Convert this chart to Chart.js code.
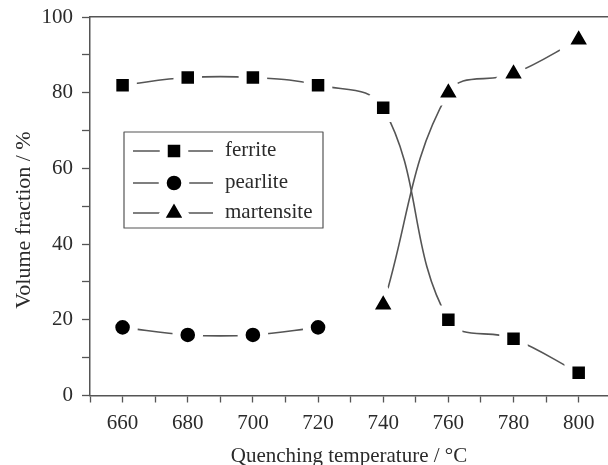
<!DOCTYPE html>
<html>
<head>
<meta charset="utf-8">
<script src="https://cdn.jsdelivr.net/npm/chart.js@4.4.0/dist/chart.umd.min.js"></script>
<style>
  html, body { margin: 0; padding: 0; background: #fff; }
  #caixa { width: 608px; height: 465px; }
</style>
</head>
<body>
<div id="caixa"><canvas id="grafico" width="608" height="465"></canvas></div>
<script>
// values
const temperatures = [660, 680, 700, 720, 740, 760, 780, 800];
const ferrite = [82, 84, 84, 82, 76, 20, 15, 6];
const pearliteTemps = [660, 680, 700, 720];
const pearlite = [18, 16, 16, 18];
const martensiteTemps = [740, 760, 780, 800];
const martensite = [24, 80, 85, 94];
const seriesNames = ['ferrite', 'pearlite', 'martensite'];
const xTickLabels = [660, 680, 700, 720, 740, 760, 780, 800];
const yTickLabels = [0, 20, 40, 60, 80, 100];
const yTitle = 'Volume fraction / %';
const xTitle = 'Quenching temperature / °C';

const FONT = 'Liberation Serif';
const TEXT = '#2b2b2b';
const LINE = '#555';

const toPoints = (xs, ys) => xs.map((x, i) => ({ x: x, y: ys[i] }));

const markers = [
  { style: 'rect', radius: 14.5 },
  { style: 'circle', radius: 11.3 },
  { style: 'triangle', radius: 17.5 }
];

const makeDataset = (name, pts, m) => ({
  label: name,
  data: pts,
  borderColor: LINE,
  borderWidth: 1.6,
  borderJoinStyle: 'round',
  tension: 0.4,
  pointStyle: m.style,
  pointRadius: m.radius,
  pointBackgroundColor: '#000',
  pointBorderColor: '#fff',
  pointBorderWidth: 8,
  clip: false
});

// no extra room for edge labels, the plot box is fixed
const noPad = (scale) => {
  scale.paddingLeft = 0;
  scale.paddingRight = 0;
  scale.paddingTop = 0;
  scale.paddingBottom = 0;
};

// white halo round the markers should not get mitred spikes
const roundJoins = {
  id: 'roundJoins',
  beforeDatasetsDraw(chart) {
    chart.ctx.lineJoin = 'round';
  }
};

// y title sits a bit below the middle in the reference
const yTitlePlugin = {
  id: 'yTitlePlugin',
  afterDraw(chart) {
    const ctx = chart.ctx;
    ctx.save();
    ctx.translate(24, 220);
    ctx.rotate(-Math.PI / 2);
    ctx.fillStyle = TEXT;
    ctx.font = '22px "' + FONT + '"';
    ctx.textAlign = 'center';
    ctx.textBaseline = 'middle';
    ctx.fillText(yTitle, 0, 0);
    ctx.restore();
  }
};

// legend drawn inside the plot, line - marker - line - text
const legendBox = {
  id: 'legendBox',
  afterDraw(chart) {
    const ctx = chart.ctx;
    ctx.save();
    ctx.lineJoin = 'round';
    ctx.strokeStyle = LINE;
    ctx.lineWidth = 1.2;
    ctx.strokeRect(124, 132, 199, 96);
    const rows = [151, 183, 213];
    seriesNames.forEach((name, i) => {
      const y = rows[i];
      ctx.strokeStyle = LINE;
      ctx.lineWidth = 1.6;
      ctx.beginPath();
      ctx.moveTo(133, y);
      ctx.lineTo(213, y);
      ctx.stroke();
      ctx.fillStyle = '#000';
      ctx.strokeStyle = '#fff';
      ctx.lineWidth = 8;
      Chart.helpers.drawPoint(ctx, {
        pointStyle: markers[i].style,
        radius: markers[i].radius,
        borderWidth: 8,
        rotation: 0
      }, 174, y);
      ctx.fillStyle = TEXT;
      ctx.font = '21px "' + FONT + '"';
      ctx.textBaseline = 'middle';
      ctx.textAlign = 'left';
      ctx.fillText(name, 225, y - 1);
    });
    ctx.restore();
  }
};

new Chart(document.getElementById('grafico'), {
  type: 'line',
  data: {
    datasets: [
      makeDataset(seriesNames[0], toPoints(temperatures, ferrite), markers[0]),
      makeDataset(seriesNames[1], toPoints(pearliteTemps, pearlite), markers[1]),
      makeDataset(seriesNames[2], toPoints(martensiteTemps, martensite), markers[2])
    ]
  },
  options: {
    responsive: false,
    animation: false,
    events: [],
    layout: { autoPadding: false, padding: { top: 17, right: 0, left: 0, bottom: 0 } },
    plugins: {
      legend: { display: false },
      tooltip: { enabled: false }
    },
    scales: {
      x: {
        type: 'linear',
        min: 650,
        max: 809,
        afterBuildTicks: (scale) => {
          const t = [];
          for (let v = 650; v <= 800; v += 10) t.push({ value: v });
          scale.ticks = t;
        },
        afterFit: (scale) => { scale.height = 69.5; noPad(scale); },
        border: { color: LINE, width: 1.5 },
        grid: { drawOnChartArea: false, drawTicks: true, tickLength: 7, color: LINE, tickWidth: 1.3 },
        ticks: {
          autoSkip: false,
          maxRotation: 0,
          color: TEXT,
          font: { family: FONT, size: 21 },
          padding: 8,
          callback: (v) => xTickLabels.includes(v) ? String(v) : ''
        },
        title: {
          display: true,
          text: xTitle,
          color: TEXT,
          font: { family: FONT, size: 21, lineHeight: 1 },
          padding: { top: 4, bottom: -2 }
        }
      },
      xTop: {
        type: 'linear',
        position: 'top',
        min: 650,
        max: 809,
        afterFit: (scale) => { scale.height = 0; noPad(scale); },
        border: { color: LINE, width: 1.5 },
        grid: { display: false, drawTicks: false },
        ticks: { display: false }
      },
      y: {
        min: 0,
        max: 100,
        afterBuildTicks: (scale) => {
          const t = [];
          for (let v = 0; v <= 100; v += 10) t.push({ value: v });
          scale.ticks = t;
        },
        afterFit: (scale) => { scale.width = 90; noPad(scale); },
        border: { color: LINE, width: 1.5 },
        grid: { drawOnChartArea: false, drawTicks: true, tickLength: 8, color: LINE, tickWidth: 1.3 },
        ticks: {
          autoSkip: false,
          color: TEXT,
          font: { family: FONT, size: 21 },
          padding: 9,
          callback: (v) => yTickLabels.includes(v) ? String(v) : ''
        }
      }
    }
  },
  plugins: [roundJoins, legendBox, yTitlePlugin]
});
</script>
</body>
</html>
